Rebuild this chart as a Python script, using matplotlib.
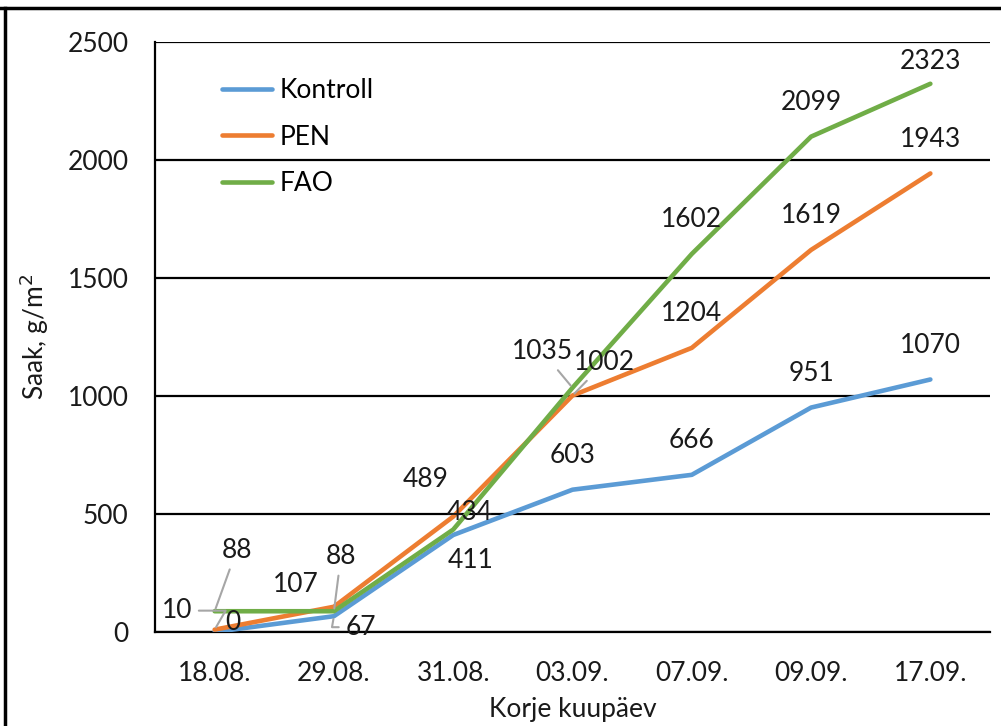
import matplotlib.pyplot as plt
from matplotlib.lines import Line2D

plt.rcParams['font.family'] = ['Lato', 'DejaVu Sans']

dates = ['18.08.', '29.08.', '31.08.', '03.09.', '07.09.', '09.09.', '17.09.']
kontroll = [0, 67, 411, 603, 666, 951, 1070]
pen = [10, 107, 489, 1002, 1204, 1619, 1943]
fao = [88, 88, 434, 1035, 1602, 2099, 2323]

series = [
    ('Kontroll', kontroll, '#5B9BD5'),
    ('PEN', pen, '#ED7D31'),
    ('FAO', fao, '#70AD47'),
]

# label offsets in pixels (dx, dy) from the point, default is straight above
offsets = {
    ('Kontroll', 0): (18, 10), ('PEN', 0): (-38, 19), ('FAO', 0): (22, 61),
    ('Kontroll', 1): (27, -11), ('PEN', 1): (-38, 22), ('FAO', 1): (7, 55),
    ('Kontroll', 2): (17, -25), ('PEN', 2): (-28, 37), ('FAO', 2): (17, 17),
    ('PEN', 3): (32, 33), ('FAO', 3): (-30, 36),
    ('FAO', 6): (0, 22),
}
# leader lines: series/point -> connection style
leaders = {
    ('PEN', 0): 'angle,angleA=0,angleB=60,rad=0',
    ('FAO', 0): 'arc3',
    ('Kontroll', 1): 'angle,angleA=0,angleB=80,rad=0',
    ('FAO', 1): 'arc3',
    ('PEN', 3): 'arc3',
    ('FAO', 3): 'arc3',
}

FS = 19

fig = plt.figure(figsize=(10.01, 7.26), dpi=100)
ax = fig.add_axes([155 / 1001, 1 - 632 / 726, 835 / 1001, 590 / 726])

x = list(range(len(dates)))
for name, vals, col in series:
    ax.plot(x, vals, color=col, lw=3.3, label=name, solid_capstyle='round', zorder=3)

for name, vals, col in series:
    for i, v in enumerate(vals):
        dx, dy = offsets.get((name, i), (0, 34))
        arrow = None
        if (name, i) in leaders:
            arrow = dict(arrowstyle='-', color='#A6A6A6', lw=1.5, shrinkA=3, shrinkB=2,
                         connectionstyle=leaders[(name, i)])
        ax.annotate(str(v), (i, v), xytext=(dx * 0.72, dy * 0.72), textcoords='offset points',
                    ha='center', va='center', fontsize=FS, color='#1a1a1a',
                    arrowprops=arrow, zorder=5)

ax.set_xlim(-0.5, 6.5)
ax.set_ylim(0, 2500)
ax.set_yticks([0, 500, 1000, 1500, 2000, 2500])
ax.set_xticks(x)
ax.set_xticklabels(dates)
ax.tick_params(length=0, labelsize=FS, colors='#1a1a1a')
ax.tick_params(axis='y', pad=19)
ax.tick_params(axis='x', pad=21)
ax.grid(axis='y', color='black', lw=1.6, zorder=0)
for s in ['top', 'right']:
    ax.spines[s].set_visible(False)
ax.spines['left'].set_linewidth(1.6)
ax.spines['bottom'].set_linewidth(1.6)

ax.set_xlabel('Korje kuupäev', fontsize=FS, color='#1a1a1a', labelpad=8)
ax.set_ylabel('Saak, g/m$^2$', fontsize=FS, color='#1a1a1a', labelpad=12)

ax.legend(loc='upper left', bbox_to_anchor=(222 / 1001, 1 - 78 / 726), bbox_transform=fig.transFigure,
          frameon=False, fontsize=FS, borderaxespad=0, borderpad=0,
          handlelength=1.9, handletextpad=0.3, labelspacing=0.82)

# outer frame lines (top and left)
fig.add_artist(Line2D([0, 1], [1 - 8 / 726, 1 - 8 / 726], color='black', lw=2.5, transform=fig.transFigure))
fig.add_artist(Line2D([5 / 1001, 5 / 1001], [0, 1 - 8 / 726], color='black', lw=2.5, transform=fig.transFigure))

fig.savefig('out.png', dpi=100)
